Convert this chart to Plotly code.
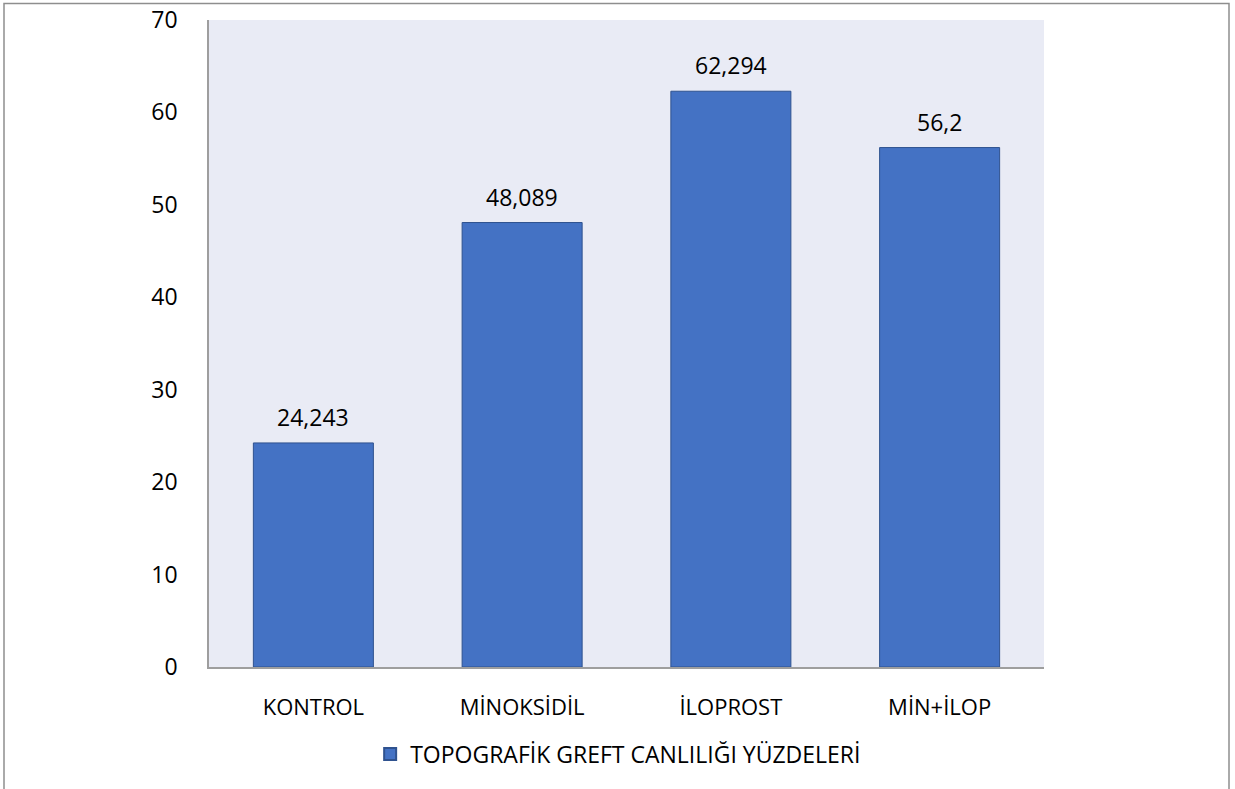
import plotly.graph_objects as go

# Graft viability percentages per treatment group
categories = ["KONTROL", "MİNOKSİDİL", "İLOPROST", "MİN+İLOP"]
values = [24.243, 48.089, 62.294, 56.2]
series_name = "TOPOGRAFİK GREFT CANLILIĞI YÜZDELERİ"
y_ticks = [0, 10, 20, 30, 40, 50, 60, 70]

W, H = 1235, 789
ML, MR, MT, MB = 209, 191, 20, 122
FONT = "Open Sans, Noto Sans, sans-serif"

def fmt(v):
    return f"{v:g}".replace(".", ",")

fig = go.Figure()
fig.add_trace(go.Bar(
    x=categories,
    y=values,
    name=series_name,
    marker=dict(color="#4472C4", line=dict(color="#2F528F", width=1)),
    showlegend=True,
))

# value labels above each bar
for c, v in zip(categories, values):
    fig.add_annotation(
        x=c, y=v, text=fmt(v), showarrow=False,
        yanchor="bottom", yshift=8,
        font=dict(family=FONT, size=23, color="#000000"),
    )

# outer frame around the whole chart (pixel -> paper conversion)
pw = W - ML - MR
ph = H - MT - MB

def px_x(p):
    return (p - ML) / pw

def px_y(p):
    return (H - MB - p) / ph

fig.add_shape(
    type="rect", xref="paper", yref="paper",
    x0=px_x(4), x1=px_x(1229), y0=px_y(820), y1=px_y(3.5),
    line=dict(color="#8E8E8E", width=1.5), fillcolor="rgba(0,0,0,0)",
    layer="above",
)

fig.update_layout(
    width=W, height=H,
    margin=dict(l=ML, r=MR, t=MT, b=MB, autoexpand=False),
    paper_bgcolor="white",
    plot_bgcolor="#E9EBF5",
    bargap=0.425,
    font=dict(family=FONT, size=20, color="#000000"),
    legend=dict(
        orientation="h", x=0.49, xanchor="center", y=px_y(754), yanchor="middle",
        font=dict(family=FONT, size=23, color="#000000"),
        itemwidth=30, itemsizing="constant",
    ),
    xaxis=dict(
        showgrid=False, showline=True, linecolor="#9E9E9E", linewidth=1.5,
        ticks="", ticklabelstandoff=20, automargin=False,
        tickfont=dict(family=FONT, size=22),
    ),
    yaxis=dict(
        range=[0, 70], tickvals=y_ticks, showgrid=False, zeroline=False,
        showline=True, linecolor="#9E9E9E", linewidth=1.5,
        ticks="", ticklabelstandoff=25, automargin=False,
        tickfont=dict(family=FONT, size=23),
    ),
)

fig.write_html("out.html")
